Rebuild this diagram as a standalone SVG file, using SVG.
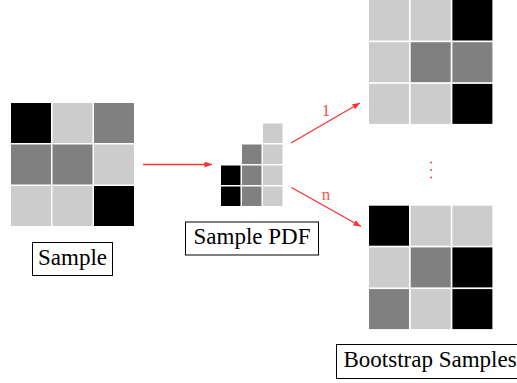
<svg xmlns="http://www.w3.org/2000/svg" width="517" height="383" viewBox="0 0 517 383">
<defs>
<style>
.k{fill:#000}.g{fill:#808080}.l{fill:#cccccc}
.box{fill:#fff;stroke:#000;stroke-width:1}
.edge{stroke:#ff3333;stroke-width:1.4;fill:none;marker-end:url(#ah)}
</style>
<marker id="ah" viewBox="0 0 10 8" refX="10" refY="4" markerWidth="8" markerHeight="6" markerUnits="userSpaceOnUse" orient="auto">
<path d="M0,0 L10,4 L0,8 z" fill="#ff3333"/>
</marker>
</defs>
<rect width="517" height="383" fill="#fff"/>
<g id="sample">
<rect class="k" x="11" y="103" width="40" height="40"/>
<rect class="l" x="52.5" y="103" width="40" height="40"/>
<rect class="g" x="94" y="103" width="40" height="40"/>
<rect class="g" x="11" y="144.5" width="40" height="40"/>
<rect class="g" x="52.5" y="144.5" width="40" height="40"/>
<rect class="l" x="94" y="144.5" width="40" height="40"/>
<rect class="l" x="11" y="186" width="40" height="40"/>
<rect class="l" x="52.5" y="186" width="40" height="40"/>
<rect class="k" x="94" y="186" width="40" height="40"/>
<rect class="box" x="32.5" y="242.5" width="80" height="33"/>
<text x="72.5" y="265" text-anchor="middle" font-family="Liberation Serif" font-size="23" fill="#000">Sample</text>
</g>
<g id="pdf">
<rect class="l" x="263" y="123.5" width="19.5" height="19.5"/>
<rect class="g" x="242" y="144.5" width="19.5" height="19.5"/>
<rect class="l" x="263" y="144.5" width="19.5" height="19.5"/>
<rect class="k" x="221" y="165.5" width="19.5" height="19.5"/>
<rect class="g" x="242" y="165.5" width="19.5" height="19.5"/>
<rect class="l" x="263" y="165.5" width="19.5" height="19.5"/>
<rect class="k" x="221" y="186.5" width="19.5" height="19.5"/>
<rect class="g" x="242" y="186.5" width="19.5" height="19.5"/>
<rect class="l" x="263" y="186.5" width="19.5" height="19.5"/>
<rect class="box" x="185.5" y="222" width="133" height="33"/>
<text x="252" y="244" text-anchor="middle" font-family="Liberation Serif" font-size="23" fill="#000">Sample PDF</text>
</g>
<g id="boot1">
<rect class="l" x="369" y="0" width="40" height="40.5"/>
<rect class="l" x="410.7" y="0" width="40" height="40.5"/>
<rect class="k" x="452.4" y="0" width="40" height="40.5"/>
<rect class="l" x="369" y="42.2" width="40" height="40"/>
<rect class="g" x="410.7" y="42.2" width="40" height="40"/>
<rect class="g" x="452.4" y="42.2" width="40" height="40"/>
<rect class="l" x="369" y="83.9" width="40" height="40"/>
<rect class="l" x="410.7" y="83.9" width="40" height="40"/>
<rect class="k" x="452.4" y="83.9" width="40" height="40"/>
</g>
<g id="bootn">
<rect class="k" x="369" y="205.7" width="40" height="40"/>
<rect class="l" x="410.7" y="205.7" width="40" height="40"/>
<rect class="l" x="452.4" y="205.7" width="40" height="40"/>
<rect class="l" x="369" y="247.4" width="40" height="40"/>
<rect class="g" x="410.7" y="247.4" width="40" height="40"/>
<rect class="k" x="452.4" y="247.4" width="40" height="40"/>
<rect class="g" x="369" y="289.1" width="40" height="40"/>
<rect class="l" x="410.7" y="289.1" width="40" height="40"/>
<rect class="k" x="452.4" y="289.1" width="40" height="40"/>
</g>
<g id="dots" fill="#ff4d4d">
<circle cx="431" cy="162.5" r="1.1"/>
<circle cx="431" cy="170" r="1.1"/>
<circle cx="431" cy="177.5" r="1.1"/>
</g>
<g id="bootlabel">
<rect class="box" x="336.5" y="344.5" width="190" height="34"/>
<text x="343.5" y="367" font-family="Liberation Serif" font-size="23" fill="#000">Bootstrap Samples</text>
</g>
<g id="connectors">
<line class="edge" x1="143" y1="164.5" x2="212" y2="164.5"/>
<line class="edge" x1="291" y1="143" x2="360" y2="103"/>
<line class="edge" x1="291.5" y1="187.5" x2="361" y2="226.5"/>
<text x="326" y="115.5" text-anchor="middle" font-family="Liberation Serif" font-size="17" fill="#ff4d4d">1</text>
<text x="326" y="200" text-anchor="middle" font-family="Liberation Serif" font-size="17" fill="#ff4d4d">n</text>
</g>
</svg>
